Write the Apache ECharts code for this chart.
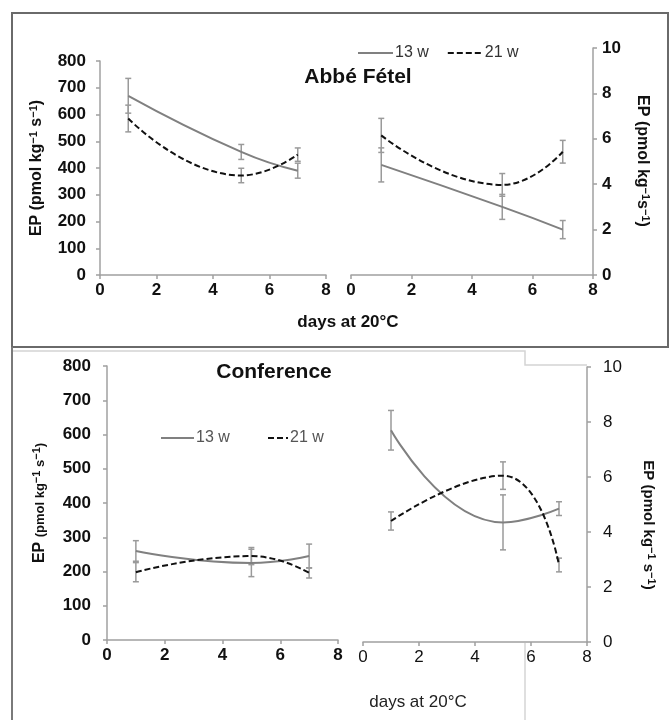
<!DOCTYPE html>
<html>
<head>
<meta charset="utf-8">
<script src="https://cdn.jsdelivr.net/npm/echarts@6/dist/echarts.min.js"></script>
<style>
  html, body { margin: 0; padding: 0; background: #fff; }
  #chart { width: 669px; height: 720px; }
</style>
</head>
<body>
<div id="chart"></div>
<script>
const days = [1, 5, 7];
const xTicks = [0, 2, 4, 6, 8];

// Abbé Fétel, left panel (pmol kg-1 s-1)
const abbeL13 = [670, 460, 390];
const abbeL13Err = [65, 28, 28];
const abbeL21 = [585, 372, 450];
const abbeL21Err = [50, 27, 25];
// Abbé Fétel, right panel
const abbeR13 = [4.85, 3.0, 2.0];
const abbeR13Err = [0.75, 0.55, 0.4];
const abbeR21 = [6.15, 3.97, 5.43];
const abbeR21Err = [0.75, 0.5, 0.5];
// Conference, left panel
const confL13 = [260, 225, 245];
const confL13Err = [30, 40, 35];
const confL21 = [198, 245, 196];
const confL21Err = [28, 25, 15];
// Conference, right panel
const confR13 = [7.7, 4.35, 4.85];
const confR13Err = [0.72, 1.0, 0.25];
const confR21 = [4.4, 6.05, 2.8];
const confR21Err = [0.33, 0.5, 0.25];

const FONT = "'Liberation Sans', Arial, sans-serif";
const AXIS = '#a0a0a0';
const GREY = '#808080';

const chart = echarts.init(document.getElementById('chart'));

function pts(vals) {
  return days.map((d, i) => [d, vals[i]]);
}

function bars(vals, err) {
  return days.map((d, i) => [d, vals[i] - err[i], vals[i] + err[i]]);
}

function line13(vals, idx) {
  return {
    name: '13 w', type: 'line', xAxisIndex: idx, yAxisIndex: idx,
    data: pts(vals), smooth: 0.5, symbol: 'none', z: 3,
    lineStyle: { color: GREY, width: 2 }, itemStyle: { color: GREY }
  };
}

function line21(vals, idx) {
  return {
    name: '21 w', type: 'line', xAxisIndex: idx, yAxisIndex: idx,
    data: pts(vals), smooth: 0.5, symbol: 'none', z: 3,
    lineStyle: { color: '#111', width: 2, type: [6, 3] }, itemStyle: { color: '#111' }
  };
}

function errorBars(data, idx) {
  return {
    type: 'custom', name: 'err', xAxisIndex: idx, yAxisIndex: idx, z: 2,
    data: data,
    renderItem: function (params, api) {
      const x = api.value(0);
      const lo = api.coord([x, api.value(1)]);
      const hi = api.coord([x, api.value(2)]);
      const w = 3;
      const style = { stroke: '#9a9a9a', lineWidth: 1.5 };
      return {
        type: 'group',
        children: [
          { type: 'line', shape: { x1: hi[0], y1: hi[1], x2: lo[0], y2: lo[1] }, style: style },
          { type: 'line', shape: { x1: hi[0] - w, y1: hi[1], x2: hi[0] + w, y2: hi[1] }, style: style },
          { type: 'line', shape: { x1: lo[0] - w, y1: lo[1], x2: lo[0] + w, y2: lo[1] }, style: style }
        ]
      };
    }
  };
}

function xAxis(idx, bold) {
  return {
    type: 'value', gridIndex: idx, min: xTicks[0], max: xTicks[xTicks.length - 1], interval: 2,
    axisLine: { show: true, onZero: false, lineStyle: { color: AXIS, width: 1.5 } },
    axisTick: { show: true, length: 4, lineStyle: { color: AXIS, width: 1.5 } },
    splitLine: { show: false },
    axisLabel: { color: '#111', fontSize: 17, fontWeight: bold ? 'bold' : 'normal', fontFamily: FONT, margin: 7 }
  };
}

function yAxis(idx, pos, max, interval, bold, margin) {
  return {
    type: 'value', gridIndex: idx, position: pos, min: 0, max: max, interval: interval,
    axisLine: { show: true, onZero: false, lineStyle: { color: AXIS, width: 1.5 } },
    axisTick: { show: true, length: 4, lineStyle: { color: AXIS, width: 1.5 } },
    splitLine: { show: false },
    axisLabel: { color: '#111', fontSize: 17, fontWeight: bold ? 'bold' : 'normal', fontFamily: FONT, margin: margin }
  };
}

const sup = { fontSize: 11, fontWeight: 'bold', fontFamily: FONT, fill: '#111', verticalAlign: 'top', lineHeight: 12 };

function axisName(x, y, rot, text, size) {
  return {
    type: 'text', x: x, y: y, rotation: rot,
    style: {
      text: text, fill: '#111', fontSize: size, fontWeight: 'bold', fontFamily: FONT,
      align: 'center', verticalAlign: 'middle', lineHeight: 18,
      rich: { s: sup, m: { fontSize: 13, fontWeight: 'bold', fontFamily: FONT, fill: '#111' } }
    }
  };
}

const legendBase = {
  selectedMode: false, itemHeight: 14,
  itemStyle: { opacity: 0 }
};

chart.setOption({
  backgroundColor: '#fff',
  animation: false,
  grid: [
    { left: 100, width: 226, top: 61, height: 214 },
    { left: 351, width: 242, top: 48, height: 227 },
    { left: 107, width: 231, top: 366, height: 274 },
    { left: 363, width: 224, top: 367, height: 275 }
  ],
  xAxis: [xAxis(0, true), xAxis(1, true), xAxis(2, true), xAxis(3, false)],
  yAxis: [
    yAxis(0, 'left', 800, 100, true, 14),
    yAxis(1, 'right', 10, 2, true, 9),
    yAxis(2, 'left', 800, 100, true, 16),
    yAxis(3, 'right', 10, 2, false, 16)
  ],
  legend: [
    Object.assign({}, legendBase, {
      left: 352, top: 40, itemWidth: 35, itemGap: 18,
      data: ['13 w', '21 w'],
      textStyle: { color: '#333', fontSize: 16, fontFamily: FONT, padding: [0, 0, 0, -3] }
    }),
    Object.assign({}, legendBase, {
      left: 155, top: 425, itemWidth: 33,
      data: ['13 w'],
      textStyle: { color: '#555', fontSize: 16, fontFamily: FONT, padding: [0, 0, 0, -3] }
    }),
    Object.assign({}, legendBase, {
      left: 262, top: 425, itemWidth: 20,
      data: ['21 w'],
      textStyle: { color: '#555', fontSize: 16, fontFamily: FONT, padding: [0, 0, 0, -3] }
    })
  ],
  graphic: [
    { type: 'rect', shape: { x: 12, y: 13, width: 656, height: 334 }, style: { fill: 'none', stroke: '#6a6a6a', lineWidth: 2 } },
    { type: 'line', shape: { x1: 12, y1: 347, x2: 12, y2: 720 }, style: { stroke: '#7a7a7a', lineWidth: 2 } },
    { type: 'polyline', shape: { points: [[13, 351], [525, 351], [525, 365], [587, 365]] }, style: { fill: 'none', stroke: '#d4d4d4', lineWidth: 1.5 } },
    { type: 'line', shape: { x1: 525, y1: 643, x2: 525, y2: 720 }, style: { stroke: '#d4d4d4', lineWidth: 1.5 } },
    { type: 'text', x: 358, y: 77, style: { text: 'Abbé Fétel', fill: '#111', fontSize: 21, fontWeight: 'bold', fontFamily: FONT, align: 'center', verticalAlign: 'middle' } },
    { type: 'text', x: 274, y: 372, style: { text: 'Conference', fill: '#111', fontSize: 21, fontWeight: 'bold', fontFamily: FONT, align: 'center', verticalAlign: 'middle' } },
    { type: 'text', x: 348, y: 322, style: { text: 'days at 20°C', fill: '#111', fontSize: 17, fontWeight: 'bold', fontFamily: FONT, align: 'center', verticalAlign: 'middle' } },
    { type: 'text', x: 418, y: 702, style: { text: 'days at 20°C', fill: '#222', fontSize: 17, fontFamily: FONT, align: 'center', verticalAlign: 'middle' } },
    axisName(37, 168, Math.PI / 2, 'EP (pmol kg{s|−1} s{s|−1})', 16),
    axisName(642, 161, -Math.PI / 2, 'EP (pmol kg{s|−1}s{s|−1})', 16),
    axisName(40, 503, Math.PI / 2, 'EP {m|(pmol kg}{s|−1}{m| s}{s|−1}{m|)}', 16),
    axisName(648, 525, -Math.PI / 2, 'EP (pmol kg{s|−1} s{s|−1})', 15)
  ],
  series: [
    errorBars(bars(abbeL13, abbeL13Err), 0),
    errorBars(bars(abbeL21, abbeL21Err), 0),
    line13(abbeL13, 0),
    line21(abbeL21, 0),
    errorBars(bars(abbeR13, abbeR13Err), 1),
    errorBars(bars(abbeR21, abbeR21Err), 1),
    line13(abbeR13, 1),
    line21(abbeR21, 1),
    errorBars(bars(confL13, confL13Err), 2),
    errorBars(bars(confL21, confL21Err), 2),
    line13(confL13, 2),
    line21(confL21, 2),
    errorBars(bars(confR13, confR13Err), 3),
    errorBars(bars(confR21, confR21Err), 3),
    line13(confR13, 3),
    line21(confR21, 3)
  ]
});
</script>
</body>
</html>
